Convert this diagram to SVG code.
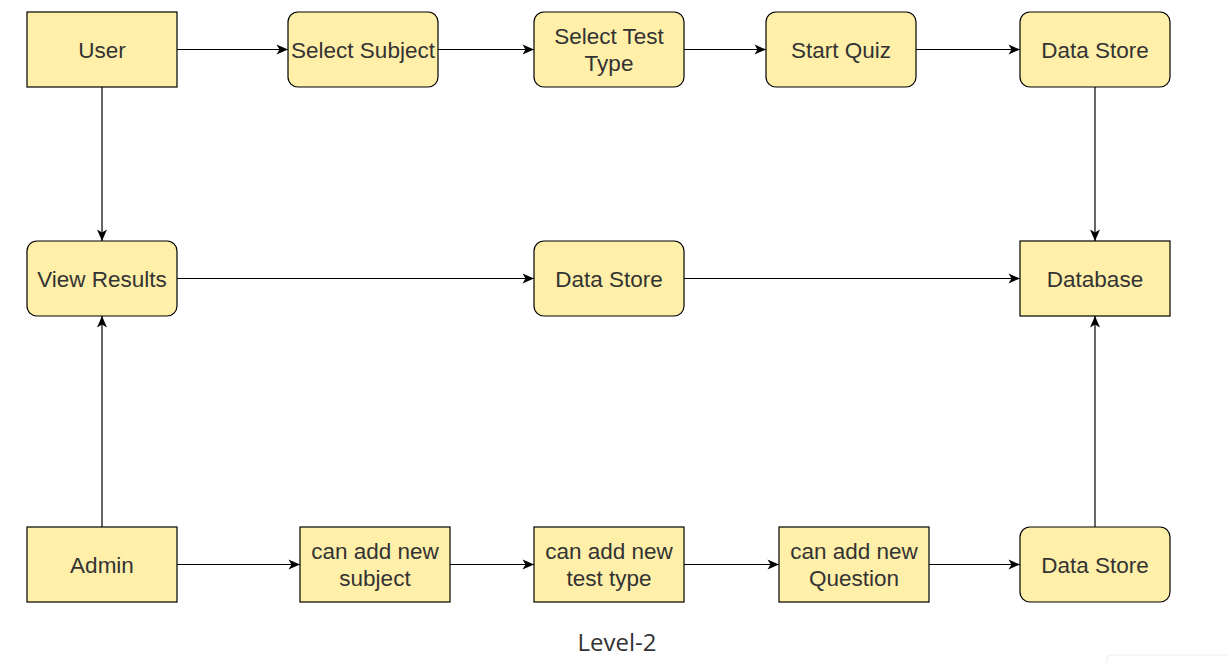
<svg xmlns="http://www.w3.org/2000/svg" width="1227" height="663" viewBox="0 0 1227 663">
<defs>
<marker id="arr" markerUnits="userSpaceOnUse" markerWidth="13" markerHeight="11" refX="12" refY="5.5" orient="auto">
<path d="M0.5,0.5 L12,5.5 L0.5,10.5 L3.5,5.5 Z" fill="#000"/>
</marker>
<style>
.n{fill:#FFEFA9;stroke:#000;stroke-width:1.2}
.t{font-family:"Liberation Sans",Arial,sans-serif;font-size:22.5px;fill:#333;text-anchor:middle}
.c{fill:none;stroke:#000;stroke-width:1.2;marker-end:url(#arr)}
.cap{font-family:"Open Sans","Noto Sans",sans-serif;font-size:24px;fill:#333;text-anchor:middle}
</style>
</defs>
<rect width="1227" height="663" fill="#fff"/>
<g id="connectors">
<path class="c" d="M177,49.5 H288"/>
<path class="c" d="M438,49.5 H534"/>
<path class="c" d="M684,49.5 H766"/>
<path class="c" d="M916,49.5 H1020"/>
<path class="c" d="M102,87 V241"/>
<path class="c" d="M1095,87 V241"/>
<path class="c" d="M177,278.5 H534"/>
<path class="c" d="M684,278.5 H1020"/>
<path class="c" d="M102,527 V316"/>
<path class="c" d="M1095,527 V316"/>
<path class="c" d="M177,564.5 H300"/>
<path class="c" d="M450,564.5 H534"/>
<path class="c" d="M684,564.5 H779"/>
<path class="c" d="M929,564.5 H1020"/>
</g>
<g id="user"><rect class="n" x="27" y="12" width="150" height="75"/><text class="t" x="102" y="57.5">User</text></g>
<g id="select-subject"><rect class="n" x="288" y="12" width="150" height="75" rx="10"/><text class="t" x="363" y="57.5">Select Subject</text></g>
<g id="select-test-type"><rect class="n" x="534" y="12" width="150" height="75" rx="10"/><text class="t" x="609" y="44">Select Test</text><text class="t" x="609" y="71">Type</text></g>
<g id="start-quiz"><rect class="n" x="766" y="12" width="150" height="75" rx="10"/><text class="t" x="841" y="57.5">Start Quiz</text></g>
<g id="data-store-top"><rect class="n" x="1020" y="12" width="150" height="75" rx="10"/><text class="t" x="1095" y="57.5">Data Store</text></g>
<g id="view-results"><rect class="n" x="27" y="241" width="150" height="75" rx="10"/><text class="t" x="102" y="286.5">View Results</text></g>
<g id="data-store-mid"><rect class="n" x="534" y="241" width="150" height="75" rx="10"/><text class="t" x="609" y="286.5">Data Store</text></g>
<g id="database"><rect class="n" x="1020" y="241" width="150" height="75"/><text class="t" x="1095" y="286.5">Database</text></g>
<g id="admin"><rect class="n" x="27" y="527" width="150" height="75"/><text class="t" x="102" y="572.5">Admin</text></g>
<g id="add-subject"><rect class="n" x="300" y="527" width="150" height="75"/><text class="t" x="375" y="559">can add new</text><text class="t" x="375" y="586">subject</text></g>
<g id="add-test-type"><rect class="n" x="534" y="527" width="150" height="75"/><text class="t" x="609" y="559">can add new</text><text class="t" x="609" y="586">test type</text></g>
<g id="add-question"><rect class="n" x="779" y="527" width="150" height="75"/><text class="t" x="854" y="559">can add new</text><text class="t" x="854" y="586">Question</text></g>
<g id="data-store-bottom"><rect class="n" x="1020" y="527" width="150" height="75" rx="10"/><text class="t" x="1095" y="572.5">Data Store</text></g>
<text class="cap" x="617" y="651">Level-2</text>
<rect x="1107" y="655" width="130" height="20" rx="4" fill="none" stroke="#ececec"/>
</svg>
